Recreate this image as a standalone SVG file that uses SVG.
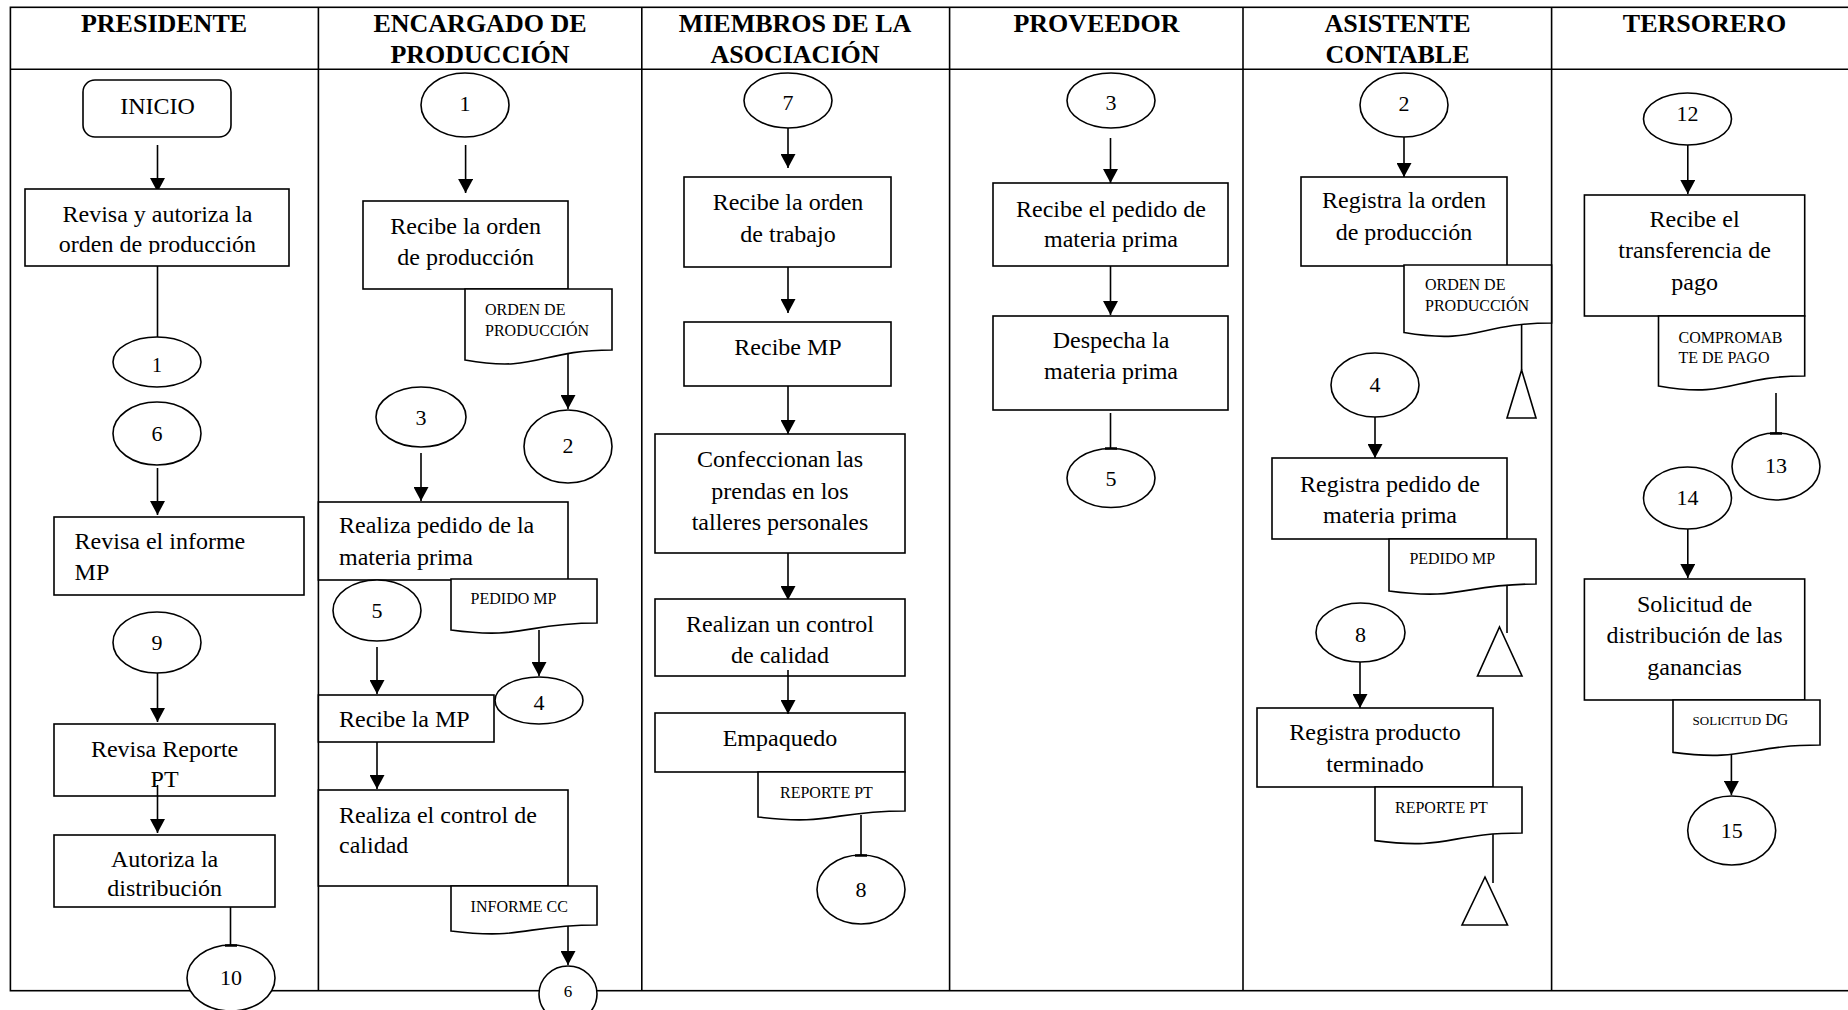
<svg xmlns="http://www.w3.org/2000/svg" width="1848" height="1010" viewBox="0 0 1848 1010">
<defs>
<style>
.frame{fill:none;stroke:#000;stroke-width:1.6}
.box{fill:#fff;stroke:#000;stroke-width:1.6}
.ell{fill:#fff;stroke:#000;stroke-width:1.6}
.tri{fill:#fff;stroke:#000;stroke-width:1.6}
.ln{fill:none;stroke:#000;stroke-width:1.6}
.arr{fill:none;stroke:#000;stroke-width:1.6;marker-end:url(#ah)}
text{font-family:"Liberation Serif","Times New Roman",serif;fill:#000}
.hd{font-size:26px;font-weight:bold;text-anchor:middle}
.t{font-size:24px}
.c{text-anchor:middle}
.n{font-size:22px;text-anchor:middle}
.d{font-size:16px}
</style>
<marker id="ah" markerWidth="14" markerHeight="15" refX="14" refY="7.5" orient="auto" markerUnits="userSpaceOnUse"><path d="M0,0 L14,7.5 L0,15 z" fill="#000"/></marker>
<clipPath id="cp1"><rect x="25" y="189" width="264" height="65"/></clipPath>
<clipPath id="cp2"><rect x="54" y="835" width="221" height="62"/></clipPath>
</defs>
<rect width="1848" height="1010" fill="#fff"/>
<g id="frame">
<rect class="frame" x="10.4" y="7.3" width="1850" height="983.4"/>
<line class="frame" x1="10.4" y1="69.3" x2="1848" y2="69.3"/>
<line class="frame" x1="318.4" y1="7.3" x2="318.4" y2="990.7"/>
<line class="frame" x1="641.8" y1="7.3" x2="641.8" y2="990.7"/>
<line class="frame" x1="949.6" y1="7.3" x2="949.6" y2="990.7"/>
<line class="frame" x1="1243" y1="7.3" x2="1243" y2="990.7"/>
<line class="frame" x1="1551.6" y1="7.3" x2="1551.6" y2="990.7"/>
<text class="hd" x="164" y="32">PRESIDENTE</text>
<text class="hd" x="480" y="32">ENCARGADO DE</text>
<text class="hd" x="480" y="63">PRODUCCIÓN</text>
<text class="hd" x="795" y="32">MIEMBROS DE LA</text>
<text class="hd" x="795" y="63">ASOCIACIÓN</text>
<text class="hd" x="1096.5" y="32">PROVEEDOR</text>
<text class="hd" x="1397.5" y="32">ASISTENTE</text>
<text class="hd" x="1397.5" y="63">CONTABLE</text>
<text class="hd" x="1704.5" y="32">TERSORERO</text>
</g>

<g id="connectors">
<line class="arr" x1="157.5" y1="145" x2="157.5" y2="192"/>
<line class="ln" x1="157.5" y1="266" x2="157.5" y2="337"/>
<line class="arr" x1="157.5" y1="468" x2="157.5" y2="515"/>
<line class="arr" x1="157.5" y1="673" x2="157.5" y2="722"/>
<line class="ln" x1="230.5" y1="907" x2="230.5" y2="945"/>
<line class="arr" x1="465.6" y1="145" x2="465.6" y2="193"/>
<line class="arr" x1="568" y1="350" x2="568" y2="409"/>
<line class="arr" x1="421" y1="453" x2="421" y2="501"/>
<line class="arr" x1="539" y1="630" x2="539" y2="676"/>
<line class="arr" x1="377" y1="647" x2="377" y2="694"/>
<line class="arr" x1="377" y1="742" x2="377" y2="789"/>
<line class="arr" x1="568" y1="925" x2="568" y2="965"/>
<line class="arr" x1="788" y1="122" x2="788" y2="168"/>
<line class="arr" x1="788" y1="267" x2="788" y2="313"/>
<line class="arr" x1="788" y1="386" x2="788" y2="434"/>
<line class="arr" x1="788" y1="553" x2="788" y2="600"/>
<line class="ln" x1="861" y1="815" x2="861" y2="855"/>
<line class="arr" x1="1110.5" y1="138" x2="1110.5" y2="183"/>
<line class="arr" x1="1110.5" y1="266" x2="1110.5" y2="315"/>
<line class="ln" x1="1110.5" y1="413" x2="1110.5" y2="448"/>
<line class="arr" x1="1404" y1="130" x2="1404" y2="177"/>
<line class="ln" x1="1521.6" y1="323" x2="1521.6" y2="370"/>
<line class="arr" x1="1375" y1="412" x2="1375" y2="458"/>
<line class="ln" x1="1507" y1="584" x2="1507" y2="633"/>
<line class="arr" x1="1360" y1="660" x2="1360" y2="708"/>
<line class="ln" x1="1493" y1="833" x2="1493" y2="883"/>
<line class="arr" x1="1687.8" y1="145" x2="1687.8" y2="194"/>
<line class="ln" x1="1776" y1="393" x2="1776" y2="433"/>
<line class="arr" x1="1687.8" y1="529" x2="1687.8" y2="578"/>
<line class="arr" x1="1731.4" y1="755" x2="1731.4" y2="795"/>
</g>

<g id="n-inicio"><rect class="box" x="83" y="80" width="148" height="57" rx="12"/><text class="t c" x="157.5" y="114">INICIO</text></g>
<g id="n-p-revisa-autoriza"><rect class="box" x="25" y="189" width="264" height="77"/><g clip-path="url(#cp1)"><text class="t c" x="157.5" y="222">Revisa y autoriza la</text><text class="t c" x="157.5" y="252">orden de producción</text></g></g>
<g id="n-p-c1"><ellipse class="ell" cx="157" cy="362" rx="44" ry="25"/><text class="c" style="font-size:20px" x="157" y="372">1</text></g>
<g id="n-p-c6"><ellipse class="ell" cx="157" cy="433.5" rx="44" ry="31.5"/><text class="n" x="157" y="441">6</text></g>
<g id="n-p-revisa-informe"><rect class="box" x="54" y="517" width="250" height="78"/><text class="t" x="74.6" y="549">Revisa el informe</text><text class="t" x="74.6" y="580">MP</text></g>
<g id="n-p-c9"><ellipse class="ell" cx="157" cy="642.5" rx="44" ry="30.5"/><text class="n" x="157" y="650">9</text></g>
<g id="n-p-revisa-reporte"><rect class="box" x="54" y="724" width="221" height="72"/><text class="t c" x="164.6" y="757">Revisa Reporte</text><text class="t c" x="164.6" y="787">PT</text></g>
<g id="n-p-autoriza"><rect class="box" x="54" y="835" width="221" height="72"/><g clip-path="url(#cp2)"><text class="t c" x="164.6" y="867">Autoriza la</text><text class="t c" x="164.6" y="896">distribución</text></g></g>
<g id="n-p-c10"><ellipse class="ell" cx="231" cy="978" rx="44" ry="33"/><line class="ln" x1="225" y1="945.5" x2="237" y2="945.5" style="stroke-width:2.5"/><text class="n" x="231" y="985">10</text></g>

<g id="n-e-c1"><ellipse class="ell" cx="465" cy="105" rx="44" ry="32"/><text class="n" x="465" y="111">1</text></g>
<g id="n-e-recibe"><rect class="box" x="363" y="201" width="205" height="88"/><text class="t c" x="465.6" y="234">Recibe la orden</text><text class="t c" x="465.6" y="265">de producción</text></g>
<g id="n-e-doc-orden"><path class="box" d="M465,289 H612 V350 C538.5,350 538.5,373 465,360 Z"/><text class="d" x="485" y="315">ORDEN DE</text><text class="d" x="485" y="336">PRODUCCIÓN</text></g>
<g id="n-e-c2"><ellipse class="ell" cx="568" cy="446.5" rx="44" ry="36.5"/><text class="n" x="568" y="453">2</text></g>
<g id="n-e-c3"><ellipse class="ell" cx="421" cy="417" rx="45" ry="30"/><text class="n" x="421" y="425">3</text></g>
<g id="n-e-pedido"><rect class="box" x="318.4" y="502" width="249.6" height="78"/><text class="t" x="339" y="533">Realiza pedido de la</text><text class="t" x="339" y="565">materia prima</text></g>
<g id="n-e-doc-pedido"><path class="box" d="M451,579 H597 V623 C524,623 524,640 451,630 Z"/><text class="d" x="470.6" y="604">PEDIDO MP</text></g>
<g id="n-e-c5"><ellipse class="ell" cx="377" cy="610.5" rx="44" ry="30.5"/><text class="n" x="377" y="618">5</text></g>
<g id="n-e-c4"><ellipse class="ell" cx="539" cy="700.5" rx="44" ry="23.5"/><text class="n" x="539" y="710">4</text></g>
<g id="n-e-recibe-mp"><rect class="box" x="318.4" y="695" width="175.6" height="47"/><text class="t" x="339" y="727">Recibe la MP</text></g>
<g id="n-e-control"><rect class="box" x="318.4" y="790" width="249.6" height="96"/><text class="t" x="339" y="823">Realiza el control de</text><text class="t" x="339" y="853">calidad</text></g>
<g id="n-e-doc-informe"><path class="box" d="M451,886 H597 V925 C524,925 524,940 451,931 Z"/><text class="d" x="470.6" y="912">INFORME CC</text></g>
<g id="n-e-c6"><ellipse class="ell" cx="568" cy="994" rx="29" ry="28"/><text class="c" style="font-size:17px" x="568" y="997">6</text></g>

<g id="n-m-c7"><ellipse class="ell" cx="788" cy="100.5" rx="44" ry="27.5"/><text class="n" x="788" y="110">7</text></g>
<g id="n-m-recibe"><rect class="box" x="684" y="177" width="207" height="90"/><text class="t c" x="788" y="210">Recibe la orden</text><text class="t c" x="788" y="242">de trabajo</text></g>
<g id="n-m-recibe-mp"><rect class="box" x="684" y="322" width="207" height="64"/><text class="t c" x="788" y="355">Recibe MP</text></g>
<g id="n-m-confeccion"><rect class="box" x="655" y="434" width="250" height="119"/><text class="t c" x="780" y="467">Confeccionan las</text><text class="t c" x="780" y="499">prendas en los</text><text class="t c" x="780" y="530">talleres personales</text></g>
<g id="n-m-control"><rect class="box" x="655" y="599" width="250" height="77"/><text class="t c" x="780" y="632">Realizan un control</text><text class="t c" x="780" y="663">de calidad</text></g>
<g id="n-m-empaque"><rect class="box" x="655" y="713" width="250" height="59"/><text class="t c" x="780" y="746">Empaquedo</text></g>
<g id="n-m-doc-reporte"><path class="box" d="M758,772 H905 V811 C831.5,811 831.5,826 758,817 Z"/><text class="d" x="780" y="798">REPORTE PT</text></g>
<g id="n-m-c8"><ellipse class="ell" cx="861" cy="889.5" rx="44" ry="34.5"/><line class="ln" x1="855" y1="855.5" x2="867" y2="855.5" style="stroke-width:2.5"/><text class="n" x="861" y="897">8</text></g>

<g id="n-v-c3"><ellipse class="ell" cx="1111" cy="100.5" rx="44" ry="27.5"/><text class="n" x="1111" y="110">3</text></g>
<g id="n-v-recibe"><rect class="box" x="993" y="183" width="235" height="83"/><text class="t c" x="1111" y="217">Recibe el pedido de</text><text class="t c" x="1111" y="247">materia prima</text></g>
<g id="n-v-despacha"><rect class="box" x="993" y="316" width="235" height="94"/><text class="t c" x="1111" y="348">Despecha la</text><text class="t c" x="1111" y="379">materia prima</text></g>
<g id="n-v-c5"><ellipse class="ell" cx="1111" cy="478" rx="44" ry="29.5"/><line class="ln" x1="1105" y1="448.5" x2="1117" y2="448.5" style="stroke-width:2.5"/><text class="n" x="1111" y="486">5</text></g>

<g id="n-a-c2"><ellipse class="ell" cx="1404" cy="105" rx="44" ry="32"/><text class="n" x="1404" y="111">2</text></g>
<g id="n-a-registra-orden"><rect class="box" x="1301" y="177" width="206" height="89"/><text class="t c" x="1404" y="208">Registra la orden</text><text class="t c" x="1404" y="240">de producción</text></g>
<g id="n-a-doc-orden"><path class="box" d="M1404,265 H1551.6 V323 C1477.8,323 1477.8,345 1404,332.5 Z"/><text class="d" x="1425" y="290">ORDEN DE</text><text class="d" x="1425" y="311">PRODUCCIÓN</text></g>
<g id="n-a-arch1"><polygon class="tri" points="1521.6,370 1536,418 1507,418"/></g>
<g id="n-a-c4"><ellipse class="ell" cx="1375" cy="385" rx="44" ry="32"/><text class="n" x="1375" y="392">4</text></g>
<g id="n-a-registra-pedido"><rect class="box" x="1272" y="458" width="235" height="81"/><text class="t c" x="1390" y="492">Registra pedido de</text><text class="t c" x="1390" y="523">materia prima</text></g>
<g id="n-a-doc-pedido"><path class="box" d="M1389,539 H1536 V584 C1462.5,584 1462.5,601 1389,591 Z"/><text class="d" x="1409.4" y="564">PEDIDO MP</text></g>
<g id="n-a-arch2"><polygon class="tri" points="1499.5,627 1522,676 1477.5,676"/></g>
<g id="n-a-c8"><ellipse class="ell" cx="1360.5" cy="632.5" rx="44.5" ry="29.5"/><text class="n" x="1360.5" y="642">8</text></g>
<g id="n-a-registra-producto"><rect class="box" x="1257" y="708" width="236" height="79"/><text class="t c" x="1375" y="740">Registra producto</text><text class="t c" x="1375" y="772">terminado</text></g>
<g id="n-a-doc-reporte"><path class="box" d="M1375,787 H1522 V833 C1448.5,833 1448.5,850.5 1375,840.6 Z"/><text class="d" x="1395" y="813">REPORTE PT</text></g>
<g id="n-a-arch3"><polygon class="tri" points="1485,877 1507.5,925 1462,925"/></g>

<g id="n-t-c12"><ellipse class="ell" cx="1687.5" cy="119" rx="44" ry="26"/><text class="n" x="1687.5" y="121">12</text></g>
<g id="n-t-recibe"><rect class="box" x="1584.4" y="195" width="220.3" height="121"/><text class="t c" x="1694.6" y="227">Recibe el</text><text class="t c" x="1694.6" y="258">transferencia de</text><text class="t c" x="1694.6" y="290">pago</text></g>
<g id="n-t-doc-comp"><path class="box" d="M1658.5,316 H1804.7 V376 C1731.6,376 1731.6,398.8 1658.5,386 Z"/><text class="d" x="1678.5" y="343">COMPROMAB</text><text class="d" x="1678.5" y="363">TE DE PAGO</text></g>
<g id="n-t-c13"><ellipse class="ell" cx="1776" cy="466.5" rx="44" ry="33.5"/><line class="ln" x1="1770" y1="433.5" x2="1782" y2="433.5" style="stroke-width:2.5"/><text class="n" x="1776" y="473">13</text></g>
<g id="n-t-c14"><ellipse class="ell" cx="1687.5" cy="498" rx="44" ry="31"/><text class="n" x="1687.5" y="505">14</text></g>
<g id="n-t-solicitud"><rect class="box" x="1584.4" y="579" width="220.3" height="121"/><text class="t c" x="1694.6" y="612">Solicitud de</text><text class="t c" x="1694.6" y="643">distribución de las</text><text class="t c" x="1694.6" y="675">ganancias</text></g>
<g id="n-t-doc-sol"><path class="box" d="M1673,700 H1820 V745 C1746.5,745 1746.5,762 1673,752.4 Z"/><text x="1692.6" y="725"><tspan style="font-size:13px">SOLICITUD</tspan><tspan style="font-size:16px"> DG</tspan></text></g>
<g id="n-t-c15"><ellipse class="ell" cx="1731.7" cy="830.5" rx="44" ry="34.5"/><text class="n" x="1731.7" y="838">15</text></g>

<g id="connectors-over">
<line class="arr" x1="157.5" y1="785" x2="157.5" y2="833"/>
<line class="arr" x1="788" y1="670" x2="788" y2="714"/>
</g>
</svg>
